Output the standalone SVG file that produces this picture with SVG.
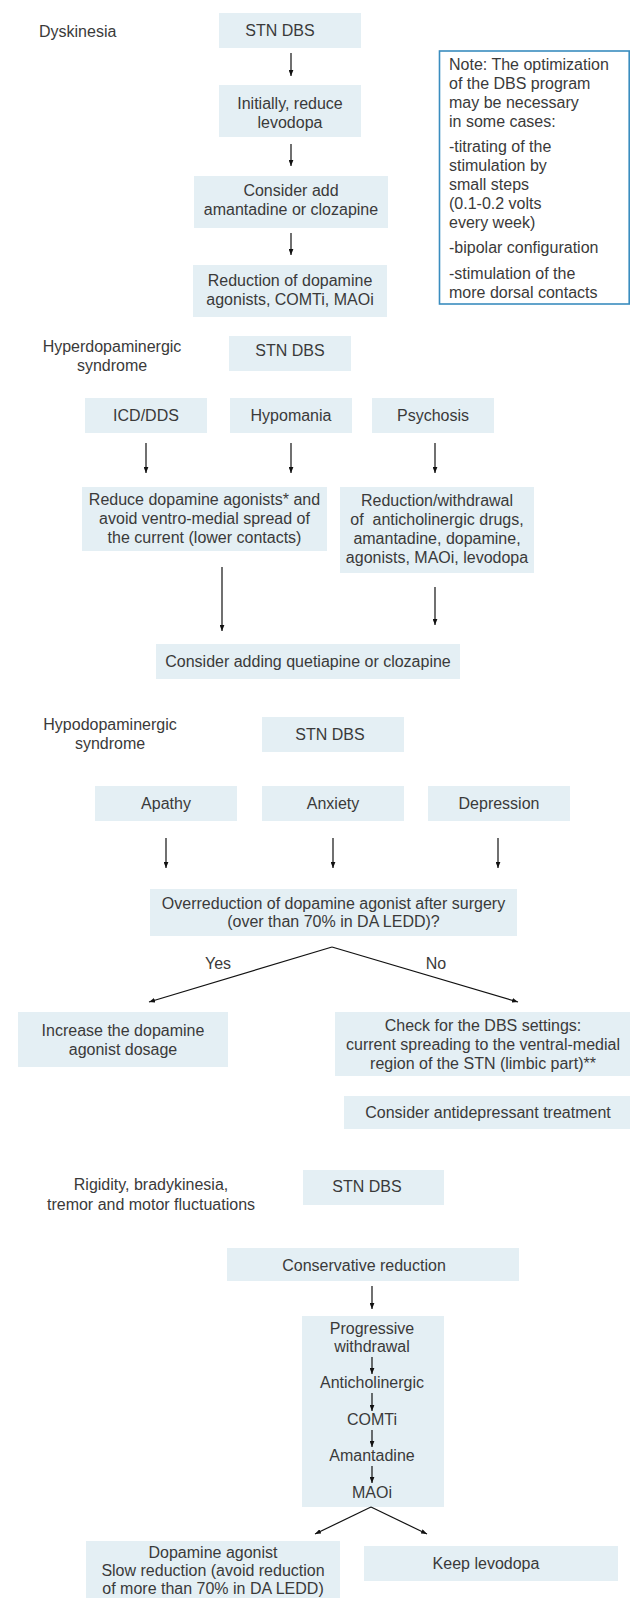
<svg xmlns="http://www.w3.org/2000/svg" width="630" height="1598" viewBox="0 0 630 1598">
<style>
.b{fill:#e4eff4}
.t{font-family:"Liberation Sans",Arial,sans-serif;font-size:16px;fill:#3a3a3a}
.m{text-anchor:middle}
.c{stroke:#111;stroke-width:1.2;fill:none;marker-end:url(#ah)}
.note{fill:#fff;stroke:#3a8dbf;stroke-width:1.6}
</style>
<defs>
<marker id="ah" viewBox="0 0 10 8" markerWidth="6" markerHeight="5" refX="10" refY="4" orient="auto" markerUnits="userSpaceOnUse">
<path d="M0,0 L10,4 L0,8 z" fill="#111"/>
</marker>
</defs>

<g id="sec1">
<g id="lbl-dyskinesia"><text class="t" x="39" y="36.5">Dyskinesia</text></g>
<g id="n1-stn"><rect class="b" x="219" y="13" width="142" height="35"/><text class="t m" x="280" y="36">STN DBS</text></g>
<g id="n1-reduce"><rect class="b" x="219" y="85" width="142" height="52"/><text class="t m" x="290"><tspan x="290" y="108.5">Initially, reduce</tspan><tspan x="290" y="127.5">levodopa</tspan></text></g>
<g id="n1-amant"><rect class="b" x="194" y="176" width="194" height="52"/><text class="t m"><tspan x="291" y="196">Consider add</tspan><tspan x="291" y="215">amantadine or clozapine</tspan></text></g>
<g id="n1-dopag"><rect class="b" x="193" y="265" width="194" height="52"/><text class="t m"><tspan x="290" y="286">Reduction of dopamine</tspan><tspan x="290" y="304.5">agonists, COMTi, MAOi</tspan></text></g>
<g id="note"><rect class="note" x="439.5" y="51" width="189.7" height="253"/>
<text class="t"><tspan x="449" y="70">Note: The optimization</tspan><tspan x="449" y="89">of the DBS program</tspan><tspan x="449" y="108.3">may be necessary</tspan><tspan x="449" y="127.3">in some cases:</tspan><tspan x="449" y="151.7">-titrating of the</tspan><tspan x="449" y="170.7">stimulation by</tspan><tspan x="449" y="190">small steps</tspan><tspan x="449" y="209.3">(0.1-0.2 volts</tspan><tspan x="449" y="228.3">every week)</tspan><tspan x="449" y="253.3">-bipolar configuration</tspan><tspan x="449" y="279">-stimulation of the</tspan><tspan x="449" y="297.7">more dorsal contacts</tspan></text></g>
</g>

<g id="sec2">
<g id="lbl-hyper"><text class="t m"><tspan x="112" y="352">Hyperdopaminergic</tspan><tspan x="112" y="371">syndrome</tspan></text></g>
<g id="n2-stn"><rect class="b" x="229" y="336" width="122" height="35"/><text class="t m" x="290" y="356">STN DBS</text></g>
<g id="n2-icd"><rect class="b" x="85" y="398" width="122" height="35"/><text class="t m" x="146" y="420.5">ICD/DDS</text></g>
<g id="n2-hypomania"><rect class="b" x="230" y="398" width="122" height="35"/><text class="t m" x="291" y="420.5">Hypomania</text></g>
<g id="n2-psychosis"><rect class="b" x="372" y="398" width="122" height="35"/><text class="t m" x="433" y="420.5">Psychosis</text></g>
<g id="n2-reduce"><rect class="b" x="82" y="487" width="245" height="64"/><text class="t m"><tspan x="204.5" y="505">Reduce dopamine agonists* and</tspan><tspan x="204.5" y="524.3">avoid ventro-medial spread of</tspan><tspan x="204.5" y="543.3">the current (lower contacts)</tspan></text></g>
<g id="n2-withdraw"><rect class="b" x="340" y="487" width="194" height="86"/><text class="t m" xml:space="preserve"><tspan x="437" y="505.7">Reduction/withdrawal</tspan><tspan x="437" y="524.7">of  anticholinergic drugs,</tspan><tspan x="437" y="543.7">amantadine, dopamine,</tspan><tspan x="437" y="562.7">agonists, MAOi, levodopa</tspan></text></g>
<g id="n2-quet"><rect class="b" x="156" y="644" width="304" height="35"/><text class="t m" x="308" y="667">Consider adding quetiapine or clozapine</text></g>
</g>

<g id="sec3">
<g id="lbl-hypo"><text class="t m"><tspan x="110" y="730">Hypodopaminergic</tspan><tspan x="110" y="749">syndrome</tspan></text></g>
<g id="n3-stn"><rect class="b" x="262" y="717" width="142" height="35"/><text class="t m" x="330" y="739.5">STN DBS</text></g>
<g id="n3-apathy"><rect class="b" x="95" y="786" width="142" height="35"/><text class="t m" x="166" y="808.5">Apathy</text></g>
<g id="n3-anxiety"><rect class="b" x="262" y="786" width="142" height="35"/><text class="t m" x="333" y="808.5">Anxiety</text></g>
<g id="n3-depression"><rect class="b" x="428" y="786" width="142" height="35"/><text class="t m" x="499" y="808.5">Depression</text></g>
<g id="n3-over"><rect class="b" x="150" y="889" width="367" height="47"/><text class="t m"><tspan x="333.5" y="908.5">Overreduction of dopamine agonist after surgery</tspan><tspan x="333.5" y="927">(over than 70% in DA LEDD)?</tspan></text></g>
<g id="n3-increase"><rect class="b" x="18" y="1012" width="210" height="55"/><text class="t m"><tspan x="123" y="1036">Increase the dopamine</tspan><tspan x="123" y="1055">agonist dosage</tspan></text></g>
<g id="n3-check"><rect class="b" x="335" y="1012" width="295" height="64"/><text class="t m"><tspan x="483" y="1031">Check for the DBS settings:</tspan><tspan x="483" y="1050">current spreading to the ventral-medial</tspan><tspan x="483" y="1069">region of the STN (limbic part)**</tspan></text></g>
<g id="n3-antidep"><rect class="b" x="344" y="1096" width="286" height="33"/><text class="t m" x="488" y="1118">Consider antidepressant treatment</text></g>
</g>

<g id="sec4">
<g id="lbl-rigid"><text class="t m"><tspan x="151" y="1190">Rigidity, bradykinesia,</tspan><tspan x="151" y="1210">tremor and motor fluctuations</tspan></text></g>
<g id="n4-stn"><rect class="b" x="303" y="1170" width="141" height="35"/><text class="t m" x="367" y="1192">STN DBS</text></g>
<g id="n4-cons"><rect class="b" x="227" y="1248" width="292" height="33"/><text class="t m" x="364" y="1271">Conservative reduction</text></g>
<g id="n4-prog"><rect class="b" x="302" y="1316" width="142" height="191"/><text class="t m"><tspan x="372" y="1333.5">Progressive</tspan><tspan x="372" y="1352">withdrawal</tspan><tspan x="372" y="1388">Anticholinergic</tspan><tspan x="372" y="1424.5">COMTi</tspan><tspan x="372" y="1461">Amantadine</tspan><tspan x="372" y="1498">MAOi</tspan></text></g>
<g id="n4-dopag"><rect class="b" x="86" y="1541" width="254" height="57"/><text class="t m"><tspan x="213" y="1558">Dopamine agonist</tspan><tspan x="213" y="1576">Slow reduction (avoid reduction</tspan><tspan x="213" y="1594">of more than 70% in DA LEDD)</tspan></text></g>
<g id="n4-keep"><rect class="b" x="364" y="1546" width="254" height="35"/><text class="t m" x="486" y="1569">Keep levodopa</text></g>
</g>

<g id="connectors">
<line class="c" x1="291" y1="53" x2="291" y2="76"/>
<line class="c" x1="291" y1="144" x2="291" y2="166"/>
<line class="c" x1="291" y1="233" x2="291" y2="255"/>
<line class="c" x1="146" y1="443" x2="146" y2="473"/>
<line class="c" x1="291" y1="443" x2="291" y2="473"/>
<line class="c" x1="435" y1="443" x2="435" y2="473"/>
<line class="c" x1="222" y1="567" x2="222" y2="631"/>
<line class="c" x1="435" y1="587" x2="435" y2="625"/>
<line class="c" x1="166" y1="838" x2="166" y2="868"/>
<line class="c" x1="333" y1="838" x2="333" y2="868"/>
<line class="c" x1="498" y1="838" x2="498" y2="868"/>
<line class="c" x1="332" y1="947" x2="149" y2="1002"/>
<line class="c" x1="332" y1="947" x2="518" y2="1002"/>
<text class="t m" x="218" y="968.5">Yes</text>
<text class="t m" x="436" y="968.5">No</text>
<line class="c" x1="372" y1="1286" x2="372" y2="1309"/>
<line class="c" x1="372" y1="1357" x2="372" y2="1374"/>
<line class="c" x1="372" y1="1393" x2="372" y2="1411"/>
<line class="c" x1="372" y1="1430" x2="372" y2="1447"/>
<line class="c" x1="372" y1="1466" x2="372" y2="1483"/>
<line class="c" x1="371" y1="1507" x2="315" y2="1534"/>
<line class="c" x1="371" y1="1507" x2="427" y2="1534"/>
</g>
</svg>
